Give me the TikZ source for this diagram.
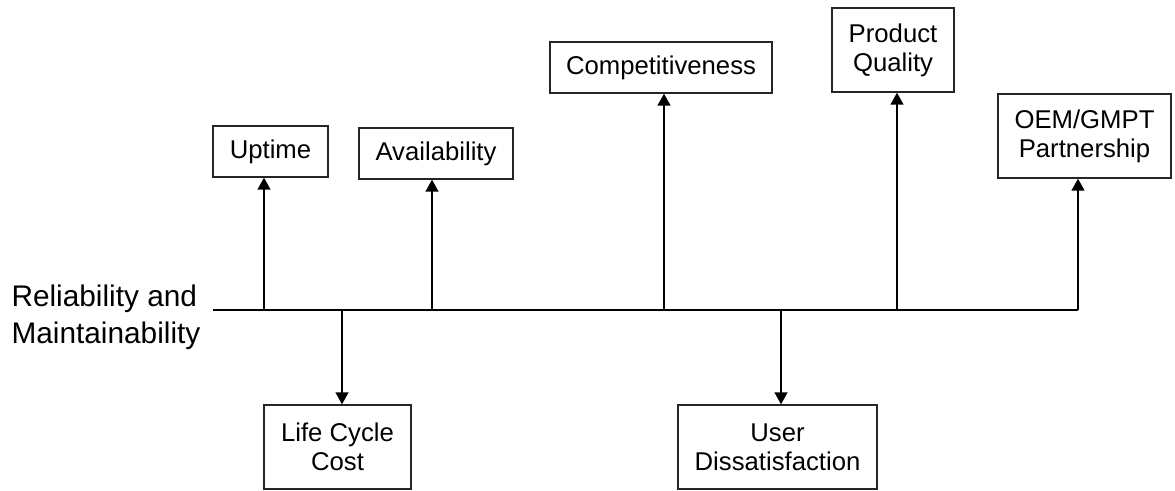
\documentclass[tikz,border=0pt]{standalone}
\usepackage{fontspec}
\setmainfont{Liberation Sans}
\usetikzlibrary{arrows.meta}
\begin{document}
\begin{tikzpicture}[x=1pt,y=-1pt,
  box/.style={draw=black!85,line width=1.4pt,align=center,inner sep=0pt,
    font=\fontsize{25.7}{29}\selectfont},
  conn/.style={line width=1.5pt,-{Triangle[width=13pt,length=12pt]}},
  mainline/.style={line width=1.6pt}]
\useasboundingbox (0,0) rectangle (1175,490);
\node[anchor=west,align=left,font=\fontsize{29.8}{37}\selectfont] (rm) at (8,317) {Reliability and\\Maintainability};
\node[box,minimum width=115pt,minimum height=51pt] (up) at (270.5,151.5) {Uptime};
\node[box,minimum width=154pt,minimum height=51pt] (av) at (436,153.5) {Availability};
\node[box,minimum width=222pt,minimum height=51pt] (co) at (661,67.5) {Competitiveness};
\node[box,minimum width=122pt,minimum height=84pt] (pq) at (893,50) {Product\\Quality};
\node[box,minimum width=173pt,minimum height=84pt] (oem) at (1084.5,136) {OEM/GMPT\\Partnership};
\node[box,minimum width=147pt,minimum height=84pt] (lc) at (337.5,447) {Life Cycle\\Cost};
\node[box,minimum width=199pt,minimum height=84pt] (ud) at (777.5,447) {User\\Dissatisfaction};
\coordinate (ls) at (213,310);
\coordinate (le) at (1078,310);
\draw[mainline] (ls) -- (le);
\coordinate (pup) at (264,310);
\coordinate (pav) at (432,310);
\coordinate (pco) at (664,310);
\coordinate (ppq) at (897,310);
\coordinate (plc) at (342,310);
\coordinate (pud) at (781,310);
\draw[conn] (pup) -- (pup |- up.south);
\draw[conn] (pav) -- (pav |- av.south);
\draw[conn] (pco) -- (pco |- co.south);
\draw[conn] (ppq) -- (ppq |- pq.south);
\draw[conn] (le) -- (le |- oem.south);
\draw[conn] (plc) -- (plc |- lc.north);
\draw[conn] (pud) -- (pud |- ud.north);
\end{tikzpicture}
\end{document}
